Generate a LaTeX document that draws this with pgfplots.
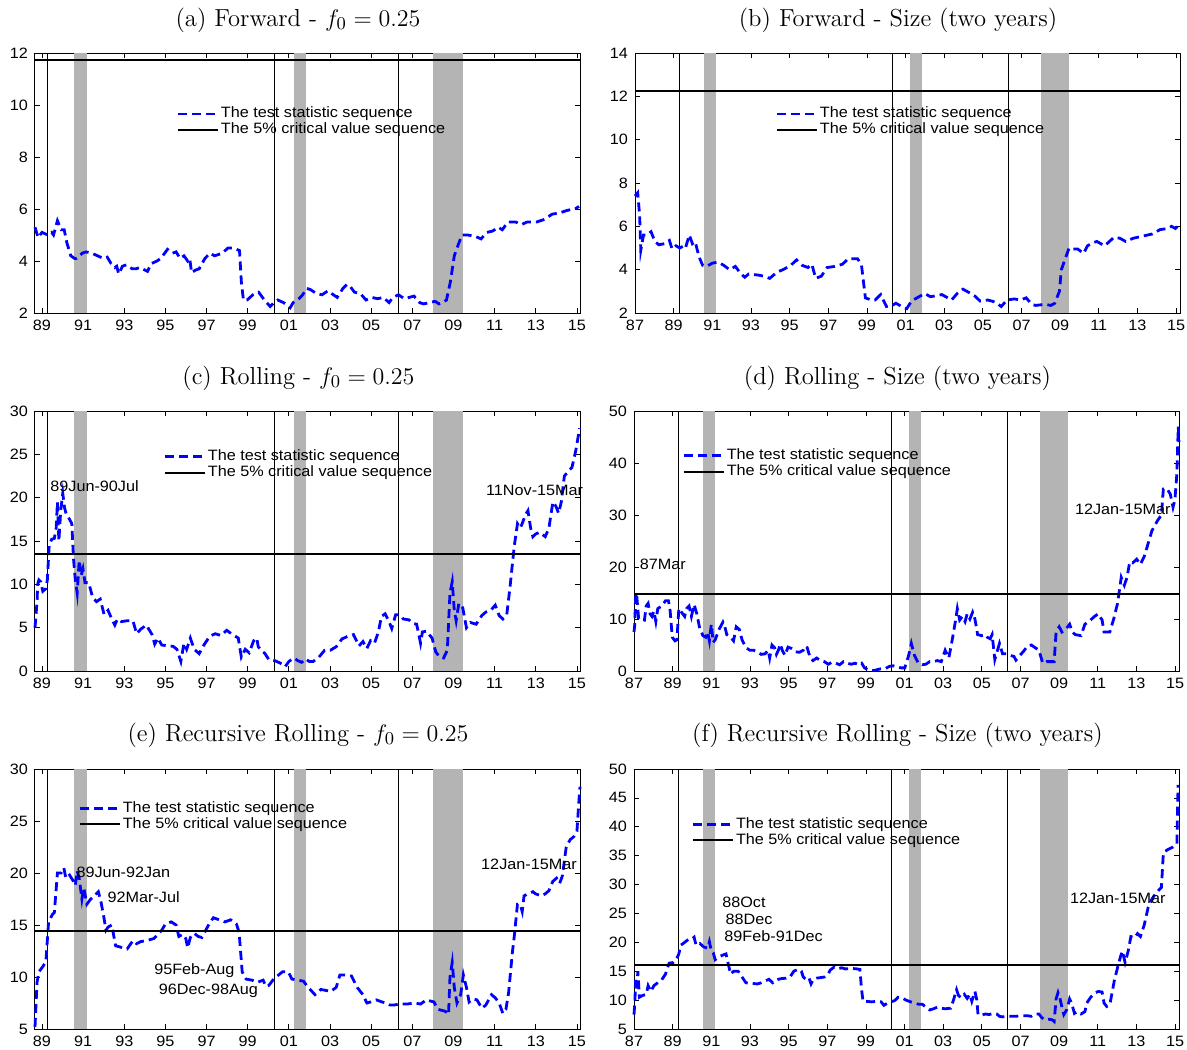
\documentclass[border=0pt]{standalone}
\usepackage{fontspec}
\usepackage{pgfplots}
\pgfplotsset{compat=1.18}
\newfontfamily\arial{Liberation Sans}[FakeStretch=1.08]
\newcommand\af{\arial\fontsize{7.5}{8.5}\selectfont}
\newcommand\tf{\fontsize{12.3}{14}\selectfont}
\definecolor{bandgray}{RGB}{180,180,180}
\pgfplotsset{
  myaxis/.style={
    scale only axis, width=272.5pt, height=130pt, anchor=north west,
    axis line style={line width=0.5pt},
    tick style={black, line width=0.4pt},
    major tick length=2.5pt, minor tick length=1.5pt,
    minor x tick num=3,
    ytick style={black}, minor y tick num=0,
    ticklabel style={font=\af},
    /pgf/number format/assume math mode=true,
    clip=false,
    legend style={draw=none, fill=none, font=\af, anchor=north west, inner sep=0pt,
      row sep=-0.5pt, nodes={inner sep=0.8pt}},
    legend cell align=left,
    legend image code/.code={\draw[##1] (0pt,0pt) -- (20pt,0pt);},
  },
  leftcol/.style={xmin=1988.66, xmax=2015.15,
    xtick={1989,1991,...,2015},
    xticklabels={89,91,93,95,97,99,01,03,05,07,09,11,13,15}},
  rightcol/.style={xmin=1987.0, xmax=2015.2,
    xtick={1987,1989,...,2015},
    xticklabels={87,89,91,93,95,97,99,01,03,05,07,09,11,13,15}},
  ser/.style={blue, line width=1.4pt, dash pattern=on 4.5pt off 2.5pt},
  crit/.style={black, line width=1pt},
  vl/.style={black, line width=0.5pt, forget plot},
  band/.style={fill=bandgray, draw=none, forget plot},
}
\newcommand\decor[4]{% ymin ymax xmin xmax
  \addplot[band] coordinates {(1990.55,#1) (1991.17,#1) (1991.17,#2) (1990.55,#2)} -- cycle;
  \addplot[band] coordinates {(2001.25,#1) (2001.85,#1) (2001.85,#2) (2001.25,#2)} -- cycle;
  \addplot[band] coordinates {(2008.0,#1) (2009.45,#1) (2009.45,#2) (2008.0,#2)} -- cycle;
  \addplot[vl] coordinates {(1989.28,#1) (1989.28,#2)};
  \addplot[vl] coordinates {(2000.3,#1) (2000.3,#2)};
  \addplot[vl] coordinates {(2006.34,#1) (2006.34,#2)};
}
\begin{document}
\begin{tikzpicture}
\useasboundingbox (0,0) rectangle (593.5pt,-524.5pt);
% titles
\node[anchor=base] at (149pt,-13pt) {\tf (a) Forward - $f_0 = 0.25$};
\node[anchor=base] at (449pt,-13pt) {\tf (b) Forward - Size (two years)};
\node[anchor=base] at (149.2pt,-192pt) {\tf (c) Rolling - $f_0 = 0.25$};
\node[anchor=base] at (448.7pt,-192pt) {\tf (d) Rolling - Size (two years)};
\node[anchor=base] at (149pt,-370.5pt) {\tf (e) Recursive Rolling - $f_0 = 0.25$};
\node[anchor=base] at (448.7pt,-370.5pt) {\tf (f) Recursive Rolling - Size (two years)};

% ---------- (a)
\begin{axis}[myaxis, leftcol, at={(17.5pt,-26.5pt)}, ymin=2, ymax=12, ytick={2,4,...,12},
  legend style={at={(0.259,0.80)}}]
\decor{2}{12}{1988.66}{2015.15}
\addplot[ser] coordinates {(1988.66,5.3) (1988.81,4.9) (1989.00,5.1) (1989.28,5.0) (1989.47,5.1) (1989.56,5.0) (1989.75,5.55) (1989.93,5.2) (1990.08,5.2) (1990.21,4.7) (1990.40,4.2) (1990.58,4.1) (1990.68,4.1) (1990.96,4.3) (1991.14,4.35) (1991.42,4.3) (1991.70,4.2) (1991.98,4.1) (1992.17,4.15) (1992.36,3.9) (1992.54,3.75) (1992.63,3.8) (1992.73,3.5) (1992.91,3.8) (1993.10,3.85) (1993.38,3.7) (1993.57,3.7) (1993.75,3.75) (1994.13,3.6) (1994.31,3.9) (1994.59,4.0) (1994.78,4.1) (1995.10,4.45) (1995.34,4.3) (1995.52,4.35) (1995.71,4.1) (1995.90,4.2) (1996.08,4.0) (1996.18,4.1) (1996.27,3.55) (1996.46,3.65) (1996.64,3.7) (1996.92,4.1) (1997.16,4.3) (1997.39,4.2) (1997.76,4.3) (1998.04,4.5) (1998.32,4.5) (1998.60,4.4) (1998.69,3.2) (1998.79,2.5) (1998.97,2.5) (1999.25,2.7) (1999.53,2.8) (1999.81,2.5) (2000.09,2.25) (2000.28,2.4) (2000.46,2.5) (2000.74,2.4) (2000.93,2.3) (2001.06,2.2) (2001.21,2.4) (2001.49,2.55) (2001.67,2.7) (2001.86,2.95) (2002.05,2.9) (2002.33,2.75) (2002.61,2.7) (2002.89,2.85) (2003.35,2.6) (2003.63,2.95) (2003.82,3.1) (2004.00,3.0) (2004.19,2.8) (2004.47,2.75) (2004.75,2.5) (2005.03,2.6) (2005.31,2.55) (2005.59,2.6) (2005.87,2.4) (2006.05,2.6) (2006.33,2.7) (2006.61,2.55) (2007.08,2.65) (2007.36,2.4) (2007.55,2.35) (2007.83,2.4) (2008.11,2.45) (2008.29,2.35) (2008.48,2.4) (2008.66,2.5) (2008.85,3.2) (2009.04,4.2) (2009.22,4.6) (2009.41,5.0) (2009.69,5.0) (2010.06,4.95) (2010.34,4.85) (2010.62,5.1) (2010.90,5.15) (2011.18,5.3) (2011.37,5.2) (2011.65,5.5) (2012.02,5.5) (2012.30,5.4) (2012.58,5.5) (2013.04,5.5) (2013.42,5.6) (2013.79,5.8) (2014.16,5.85) (2014.54,5.95) (2014.91,6.0) (2015.10,6.1)};
\addlegendentry{The test statistic sequence}
\addplot[crit] coordinates {(1988.66,11.72) (2015.15,11.72)};
\addlegendentry{The 5\% critical value sequence}
\end{axis}

% ---------- (b)
\begin{axis}[myaxis, rightcol, at={(317.5pt,-26.5pt)}, ymin=2, ymax=14, ytick={2,4,...,14},
  legend style={at={(0.257,0.80)}}]
\decor{2}{14}{1987}{2015.2}
\addplot[ser] coordinates {(1987.00,7.4) (1987.14,7.55) (1987.24,6.5) (1987.30,4.9) (1987.44,5.6) (1987.63,5.6) (1987.83,5.75) (1988.03,5.3) (1988.23,5.15) (1988.52,5.2) (1988.78,5.35) (1988.92,4.95) (1989.12,5.1) (1989.32,5.0) (1989.51,5.1) (1989.61,5.0) (1989.81,5.6) (1989.97,5.2) (1990.11,5.3) (1990.31,4.6) (1990.50,4.2) (1990.70,4.15) (1991.00,4.3) (1991.30,4.35) (1991.59,4.2) (1991.89,4.0) (1992.19,4.15) (1992.49,3.8) (1992.68,3.65) (1992.88,3.8) (1993.38,3.75) (1993.67,3.7) (1993.97,3.6) (1994.37,3.9) (1994.66,4.0) (1995.06,4.2) (1995.36,4.45) (1995.65,4.2) (1995.95,4.1) (1996.15,4.25) (1996.35,3.6) (1996.64,3.7) (1996.94,4.1) (1997.34,4.15) (1997.73,4.25) (1998.03,4.5) (1998.52,4.5) (1998.72,4.2) (1998.92,2.7) (1999.22,2.6) (1999.42,2.6) (1999.71,2.85) (2000.01,2.3) (2000.31,2.35) (2000.50,2.45) (2000.80,2.3) (2001.06,2.2) (2001.30,2.55) (2001.69,2.75) (2001.99,2.9) (2002.29,2.75) (2002.58,2.8) (2002.88,2.85) (2003.38,2.6) (2003.67,2.9) (2003.97,3.1) (2004.27,2.95) (2004.56,2.8) (2004.86,2.55) (2005.26,2.6) (2005.65,2.5) (2005.95,2.3) (2006.25,2.6) (2006.64,2.65) (2006.94,2.6) (2007.24,2.7) (2007.53,2.4) (2007.73,2.35) (2008.23,2.4) (2008.52,2.35) (2008.72,2.45) (2008.96,3.0) (2009.06,4.0) (2009.26,4.5) (2009.46,5.0) (2009.65,4.95) (2009.91,4.95) (2010.21,4.75) (2010.41,5.1) (2010.70,5.25) (2010.90,5.3) (2011.30,5.1) (2011.79,5.5) (2012.09,5.45) (2012.39,5.3) (2012.78,5.45) (2013.28,5.55) (2013.77,5.65) (2014.17,5.85) (2014.57,5.9) (2014.76,6.0) (2014.96,5.9) (2015.20,6.1)};
\addlegendentry{The test statistic sequence}
\addplot[crit] coordinates {(1987,12.23) (2015.2,12.23)};
\addlegendentry{The 5\% critical value sequence}
\end{axis}

% ---------- (c)
\begin{axis}[myaxis, leftcol, at={(17.5pt,-205.5pt)}, ymin=0, ymax=30, ytick={0,5,...,30},
  legend style={at={(0.235,0.858)}}]
\decor{0}{30}{1988.66}{2015.15}
\addplot[ser] coordinates {(1988.66,5.0) (1988.76,8.0) (1988.79,10.0) (1988.85,10.5) (1988.94,10.3) (1989.04,9.2) (1989.19,9.5) (1989.26,10.5) (1989.35,14.5) (1989.47,15.2) (1989.60,15.3) (1989.69,16.5) (1989.75,19.5) (1989.82,15.0) (1989.91,18.5) (1990.01,20.5) (1990.10,18.8) (1990.19,18.0) (1990.34,17.5) (1990.45,17.0) (1990.53,13.0) (1990.62,10.5) (1990.71,9.0) (1990.81,12.8) (1990.90,11.0) (1990.99,11.8) (1991.09,10.2) (1991.27,10.2) (1991.46,8.5) (1991.65,8.0) (1991.83,8.3) (1992.02,6.5) (1992.21,7.0) (1992.39,6.0) (1992.54,5.3) (1992.67,6.0) (1992.86,5.7) (1993.14,5.8) (1993.42,5.8) (1993.60,4.3) (1993.79,4.8) (1994.07,5.3) (1994.35,4.2) (1994.48,3.1) (1994.63,3.8) (1994.82,3.0) (1995.10,2.9) (1995.37,2.85) (1995.56,2.5) (1995.75,1.1) (1995.90,3.2) (1996.03,2.5) (1996.21,3.8) (1996.40,2.5) (1996.64,2.0) (1996.87,3.0) (1997.15,4.0) (1997.42,4.3) (1997.70,4.1) (1997.98,4.7) (1998.26,4.2) (1998.54,3.8) (1998.69,1.6) (1998.88,2.5) (1999.07,2.1) (1999.29,3.5) (1999.44,3.8) (1999.51,2.8) (1999.66,2.4) (1999.84,2.0) (2000.03,1.3) (2000.31,1.2) (2000.59,0.9) (2000.82,0.5) (2001.00,1.1) (2001.25,1.5) (2001.43,1.2) (2001.62,1.0) (2001.81,1.4) (2001.99,1.1) (2002.18,1.1) (2002.46,1.6) (2002.74,2.4) (2003.02,2.4) (2003.30,2.8) (2003.58,3.7) (2003.86,4.0) (2004.14,4.2) (2004.41,2.9) (2004.60,3.4) (2004.79,2.6) (2004.97,3.5) (2005.16,3.2) (2005.35,4.5) (2005.50,6.3) (2005.68,6.6) (2005.85,5.8) (2006.00,4.9) (2006.19,6.5) (2006.37,6.5) (2006.56,6.0) (2006.84,5.9) (2007.02,5.5) (2007.21,5.4) (2007.40,3.2) (2007.49,4.5) (2007.68,4.6) (2007.96,3.8) (2008.14,2.2) (2008.33,1.6) (2008.52,1.5) (2008.70,2.4) (2008.83,9.0) (2008.94,10.3) (2009.04,7.0) (2009.13,5.8) (2009.26,7.8) (2009.45,7.3) (2009.63,5.0) (2009.82,5.6) (2010.10,5.4) (2010.38,6.4) (2010.57,6.8) (2010.85,7.1) (2011.03,7.6) (2011.22,6.4) (2011.40,6.0) (2011.59,6.5) (2011.74,9.5) (2011.87,12.5) (2011.96,14.5) (2012.11,17.0) (2012.24,16.5) (2012.34,17.0) (2012.49,18.0) (2012.62,18.5) (2012.75,16.5) (2012.86,15.5) (2012.99,15.8) (2013.18,16.0) (2013.46,15.5) (2013.64,16.5) (2013.83,19.5) (2013.98,19.0) (2014.11,18.2) (2014.24,19.5) (2014.39,22.5) (2014.57,23.0) (2014.76,23.5) (2014.95,25.5) (2015.13,28.0)};
\addlegendentry{The test statistic sequence}
\addplot[crit] coordinates {(1988.66,13.5) (2015.15,13.5)};
\addlegendentry{The 5\% critical value sequence}
\node[anchor=west, inner sep=0pt, font=\af] at (axis cs:1989.39,21.3) {89Jun-90Jul};
\node[anchor=west, inner sep=0pt, font=\af] at (axis cs:2010.57,20.85) {11Nov-15Mar};
\end{axis}

% ---------- (d)
\begin{axis}[myaxis, rightcol, at={(317pt,-205.5pt)}, ymin=0, ymax=50, ytick={0,10,...,50},
  legend style={at={(0.088,0.862)}}]
\decor{0}{50}{1987}{2015.2}
\addplot[ser] coordinates {(1987.00,7.5) (1987.04,9.0) (1987.08,14.0) (1987.13,15.0) (1987.24,10.0) (1987.40,10.0) (1987.54,9.8) (1987.63,12.5) (1987.73,13.0) (1987.83,11.0) (1987.93,10.5) (1988.03,11.5) (1988.13,9.5) (1988.23,12.0) (1988.43,12.5) (1988.63,13.5) (1988.78,13.5) (1988.86,12.0) (1988.98,6.5) (1989.12,5.8) (1989.22,6.0) (1989.32,12.0) (1989.42,11.5) (1989.62,10.5) (1989.72,12.0) (1989.85,12.5) (1989.97,10.5) (1990.11,12.8) (1990.25,11.0) (1990.41,8.0) (1990.57,6.8) (1990.71,6.5) (1990.81,7.5) (1990.90,5.8) (1991.00,9.0) (1991.10,5.5) (1991.20,6.0) (1991.40,8.0) (1991.60,9.4) (1991.70,8.5) (1991.80,7.0) (1992.00,6.5) (1992.15,5.8) (1992.29,8.5) (1992.45,8.0) (1992.59,6.0) (1992.79,4.5) (1992.99,4.0) (1993.18,4.0) (1993.38,3.7) (1993.58,3.2) (1993.78,3.3) (1993.94,4.0) (1994.02,2.5) (1994.14,5.0) (1994.27,4.5) (1994.37,3.2) (1994.47,4.0) (1994.57,5.2) (1994.67,4.0) (1994.81,3.0) (1994.97,4.6) (1995.17,4.3) (1995.36,3.7) (1995.56,3.6) (1995.76,4.0) (1995.86,4.8) (1995.96,4.5) (1996.12,2.5) (1996.26,2.0) (1996.45,2.5) (1996.65,2.0) (1996.85,1.8) (1997.05,1.3) (1997.25,1.7) (1997.45,1.5) (1997.64,1.2) (1997.84,1.8) (1998.04,1.5) (1998.24,1.3) (1998.44,1.5) (1998.64,1.2) (1998.78,1.5) (1998.93,0.6) (1999.13,0.2) (1999.43,0.1) (1999.73,0.4) (2000.02,0.5) (2000.22,0.9) (2000.42,1.0) (2000.62,0.8) (2000.82,0.6) (2001.01,0.6) (2001.21,3.0) (2001.35,5.3) (2001.51,3.0) (2001.71,1.5) (2001.91,1.2) (2002.10,1.3) (2002.30,1.8) (2002.50,1.8) (2002.70,2.0) (2002.90,1.8) (2003.10,4.0) (2003.29,2.5) (2003.49,6.5) (2003.65,10.0) (2003.73,12.0) (2003.85,9.8) (2003.99,10.5) (2004.13,9.5) (2004.24,11.0) (2004.38,10.0) (2004.52,11.3) (2004.64,10.0) (2004.78,7.0) (2004.98,6.8) (2005.18,7.0) (2005.28,6.5) (2005.43,6.2) (2005.53,7.0) (2005.67,2.2) (2005.77,3.5) (2005.91,5.3) (2006.07,3.3) (2006.27,3.3) (2006.46,3.0) (2006.66,2.8) (2006.76,2.1) (2006.96,3.0) (2007.16,3.8) (2007.36,4.8) (2007.56,5.0) (2007.75,4.5) (2007.95,4.0) (2008.15,1.5) (2008.35,1.8) (2008.55,1.8) (2008.74,1.8) (2008.84,7.5) (2009.00,8.5) (2009.14,7.5) (2009.34,8.0) (2009.54,9.0) (2009.68,7.5) (2009.83,7.0) (2010.13,6.8) (2010.33,9.0) (2010.53,9.5) (2010.83,10.5) (2011.02,11.0) (2011.22,9.8) (2011.32,7.5) (2011.62,7.5) (2011.82,10.0) (2012.02,13.0) (2012.21,18.0) (2012.37,16.5) (2012.51,18.0) (2012.65,21.0) (2012.81,20.8) (2013.01,21.5) (2013.20,20.5) (2013.40,22.0) (2013.60,24.5) (2013.80,27.0) (2014.10,29.0) (2014.29,30.0) (2014.39,35.0) (2014.59,35.0) (2014.75,34.0) (2014.89,31.5) (2014.99,33.0) (2015.09,38.0) (2015.16,47.0) (2015.20,44.0)};
\addlegendentry{The test statistic sequence}
\addplot[crit] coordinates {(1987,14.9) (2015.2,14.9)};
\addlegendentry{The 5\% critical value sequence}
\node[anchor=west, inner sep=0pt, font=\af] at (axis cs:1987.28,20.6) {87Mar};
\node[anchor=west, inner sep=0pt, font=\af] at (axis cs:2009.8,31.0) {12Jan-15Mar};
\end{axis}

% ---------- (e)
\begin{axis}[myaxis, leftcol, at={(17.5pt,-384.5pt)}, ymin=5, ymax=30, ytick={5,10,...,30},
  legend style={at={(0.079,0.884)}}]
\decor{5}{30}{1988.66}{2015.15}
\addplot[ser] coordinates {(1988.66,5.2) (1988.76,9.5) (1988.85,10.5) (1989.04,11.0) (1989.19,11.5) (1989.32,15.3) (1989.50,16.0) (1989.60,16.2) (1989.75,20.0) (1989.93,20.0) (1990.06,20.5) (1990.16,19.5) (1990.34,19.8) (1990.53,19.2) (1990.62,18.8) (1990.71,20.2) (1990.81,19.5) (1990.94,17.5) (1991.03,18.6) (1991.18,17.0) (1991.37,17.5) (1991.74,18.2) (1991.87,17.2) (1992.02,15.6) (1992.11,14.5) (1992.21,14.8) (1992.39,15.0) (1992.58,13.0) (1992.77,12.9) (1992.95,12.8) (1993.14,12.7) (1993.42,13.5) (1993.60,13.2) (1993.79,13.4) (1994.07,13.5) (1994.44,13.7) (1994.82,14.5) (1995.00,15.1) (1995.28,15.3) (1995.52,15.0) (1995.65,13.9) (1995.84,14.1) (1995.99,13.7) (1996.08,12.8) (1996.21,13.8) (1996.40,14.2) (1996.59,13.9) (1996.77,13.8) (1996.96,14.5) (1997.15,15.2) (1997.33,15.7) (1997.61,15.5) (1997.89,15.3) (1998.17,15.5) (1998.45,15.1) (1998.58,14.3) (1998.73,10.5) (1998.92,9.8) (1999.20,9.7) (1999.48,9.5) (1999.75,9.7) (1999.88,9.1) (2000.03,9.2) (2000.26,9.8) (2000.44,10.1) (2000.69,10.5) (2000.97,10.5) (2001.15,9.8) (2001.43,9.7) (2001.71,9.6) (2001.90,9.1) (2002.08,8.7) (2002.27,8.3) (2002.55,8.8) (2002.83,8.7) (2003.02,8.6) (2003.30,9.0) (2003.48,10.2) (2003.76,10.2) (2004.04,10.1) (2004.32,9.0) (2004.60,8.3) (2004.79,7.5) (2004.97,7.6) (2005.25,7.8) (2005.53,7.6) (2005.72,7.5) (2005.91,7.3) (2006.09,7.3) (2006.37,7.4) (2006.74,7.4) (2007.12,7.5) (2007.40,7.4) (2007.68,7.8) (2008.05,7.6) (2008.24,6.9) (2008.42,6.8) (2008.61,6.7) (2008.76,6.4) (2008.83,10.0) (2008.94,11.4) (2009.04,9.0) (2009.17,7.5) (2009.35,8.3) (2009.48,10.2) (2009.63,9.0) (2009.76,7.6) (2009.95,7.9) (2010.14,7.8) (2010.38,7.0) (2010.57,7.3) (2010.85,8.3) (2011.03,8.0) (2011.22,7.5) (2011.40,6.5) (2011.55,6.9) (2011.68,8.5) (2011.87,12.5) (2011.96,14.0) (2012.11,17.0) (2012.24,17.0) (2012.34,16.3) (2012.43,17.8) (2012.62,18.0) (2012.86,18.2) (2012.99,18.0) (2013.27,17.8) (2013.46,18.0) (2013.64,18.3) (2013.83,19.2) (2014.01,19.5) (2014.16,19.0) (2014.29,19.7) (2014.48,22.5) (2014.67,23.2) (2014.85,23.5) (2015.00,24.0) (2015.10,27.0) (2015.15,28.3)};
\addlegendentry{The test statistic sequence}
\addplot[crit] coordinates {(1988.66,14.42) (2015.15,14.42)};
\addlegendentry{The 5\% critical value sequence}
\node[anchor=west, inner sep=0pt, font=\af] at (axis cs:1990.66,20.1) {89Jun-92Jan};
\node[anchor=west, inner sep=0pt, font=\af] at (axis cs:1992.17,17.7) {92Mar-Jul};
\node[anchor=west, inner sep=0pt, font=\af] at (axis cs:1994.44,10.6) {95Feb-Aug};
\node[anchor=west, inner sep=0pt, font=\af] at (axis cs:1994.66,8.65) {96Dec-98Aug};
\node[anchor=west, inner sep=0pt, font=\af] at (axis cs:2010.33,20.8) {12Jan-15Mar};
\end{axis}

% ---------- (f)
\begin{axis}[myaxis, rightcol, at={(317pt,-384.5pt)}, ymin=5, ymax=50, ytick={5,10,...,50},
  legend style={at={(0.105,0.822)}}]
\decor{5}{50}{1987}{2015.2}
\addplot[ser] coordinates {(1987.00,7.5) (1987.05,10.0) (1987.08,13.5) (1987.14,12.0) (1987.20,15.0) (1987.28,10.5) (1987.44,10.8) (1987.63,11.0) (1987.73,12.5) (1987.87,11.5) (1988.03,12.5) (1988.23,13.0) (1988.43,13.5) (1988.63,14.5) (1988.72,15.5) (1988.82,16.4) (1989.02,16.5) (1989.18,17.0) (1989.32,18.0) (1989.42,19.5) (1989.62,20.0) (1989.81,20.5) (1989.97,20.5) (1990.11,20.9) (1990.21,19.5) (1990.41,19.8) (1990.61,19.2) (1990.81,19.0) (1990.90,20.1) (1991.00,18.5) (1991.10,18.2) (1991.20,17.0) (1991.40,17.5) (1991.60,17.8) (1991.76,18.0) (1991.84,16.8) (1992.00,14.5) (1992.15,15.0) (1992.39,15.0) (1992.59,14.0) (1992.79,13.0) (1993.09,12.9) (1993.38,12.8) (1993.58,13.0) (1993.78,13.3) (1993.98,13.6) (1994.18,13.0) (1994.37,13.5) (1994.57,13.7) (1994.87,13.8) (1995.07,14.0) (1995.27,15.0) (1995.46,15.3) (1995.66,15.0) (1995.76,14.0) (1995.92,13.5) (1996.06,13.8) (1996.16,12.8) (1996.26,13.5) (1996.45,13.8) (1996.65,13.9) (1996.85,14.0) (1997.05,14.5) (1997.15,15.2) (1997.35,15.7) (1997.54,15.4) (1997.74,15.6) (1997.94,15.4) (1998.24,15.5) (1998.54,15.4) (1998.69,15.3) (1998.77,12.0) (1998.85,9.8) (1998.99,9.8) (1999.29,9.7) (1999.59,9.8) (1999.79,9.7) (1999.93,9.1) (2000.08,9.4) (2000.28,9.7) (2000.48,9.9) (2000.67,10.5) (2000.87,10.4) (2001.07,10.0) (2001.31,9.7) (2001.51,9.5) (2001.71,9.3) (2001.91,9.3) (2002.10,8.8) (2002.30,8.3) (2002.50,8.5) (2002.70,8.8) (2002.90,8.6) (2003.10,8.5) (2003.39,8.6) (2003.53,10.0) (2003.69,11.8) (2003.79,10.8) (2003.93,10.4) (2004.09,11.0) (2004.24,10.3) (2004.38,11.0) (2004.48,9.8) (2004.64,11.5) (2004.74,10.0) (2004.80,7.5) (2004.98,7.4) (2005.18,7.6) (2005.37,7.5) (2005.57,7.7) (2005.77,7.6) (2005.91,7.2) (2006.07,7.1) (2006.27,7.2) (2006.46,7.2) (2006.76,7.2) (2007.06,7.3) (2007.36,7.3) (2007.55,7.2) (2007.75,7.6) (2007.95,7.6) (2008.09,7.0) (2008.25,6.6) (2008.45,6.7) (2008.64,6.6) (2008.74,6.3) (2008.84,10.2) (2008.94,11.3) (2009.04,10.3) (2009.14,8.8) (2009.24,7.5) (2009.40,8.4) (2009.54,10.2) (2009.64,9.5) (2009.79,7.7) (2009.93,8.0) (2010.13,7.6) (2010.33,8.0) (2010.43,9.5) (2010.63,10.5) (2010.83,11.2) (2011.02,11.5) (2011.22,11.4) (2011.32,9.5) (2011.46,8.9) (2011.62,9.2) (2011.72,11.0) (2011.86,13.5) (2012.01,15.5) (2012.17,17.5) (2012.27,18.5) (2012.41,16.5) (2012.57,18.5) (2012.71,21.0) (2012.91,20.8) (2013.05,21.5) (2013.20,21.0) (2013.40,23.0) (2013.60,26.0) (2013.80,27.5) (2014.00,28.5) (2014.29,29.5) (2014.39,35.5) (2014.59,36.0) (2014.89,36.5) (2015.09,37.0) (2015.15,47.0) (2015.20,47.0)};
\addlegendentry{The test statistic sequence}
\addplot[crit] coordinates {(1987,16.1) (2015.2,16.1)};
\addlegendentry{The 5\% critical value sequence}
\node[anchor=west, inner sep=0pt, font=\af] at (axis cs:1991.55,27.0) {88Oct};
\node[anchor=west, inner sep=0pt, font=\af] at (axis cs:1991.72,24.0) {88Dec};
\node[anchor=west, inner sep=0pt, font=\af] at (axis cs:1991.66,21.0) {89Feb-91Dec};
\node[anchor=west, inner sep=0pt, font=\af] at (axis cs:2009.54,27.6) {12Jan-15Mar};
\end{axis}
\end{tikzpicture}
\end{document}
